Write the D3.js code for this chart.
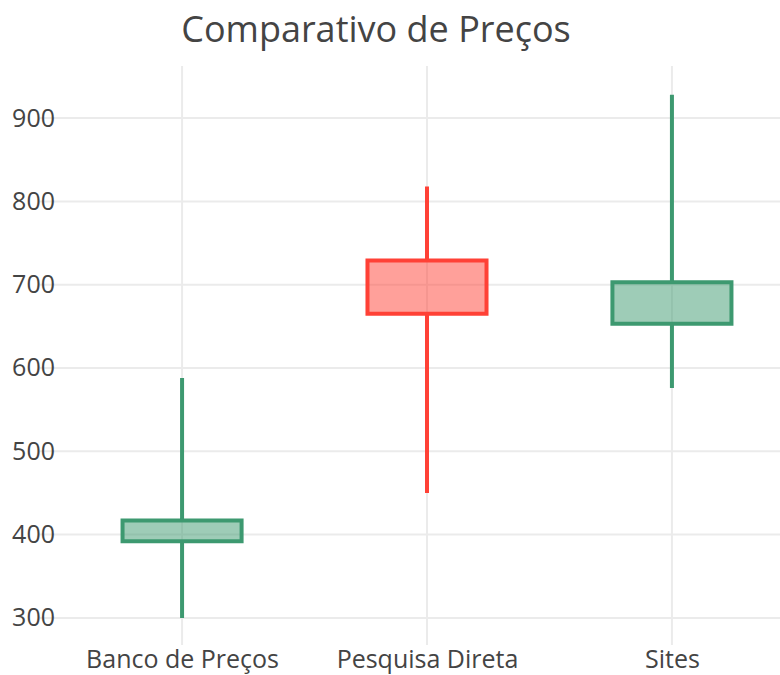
<!DOCTYPE html>
<html>
<head>
<meta charset="utf-8">
<script src="https://cdn.jsdelivr.net/npm/d3@7"></script>
<style>
  body { margin: 0; background: #fff; }
  svg { display: block; font-family: "Open Sans", sans-serif; }
</style>
</head>
<body>
<div id="chart"></div>
<script>
// data
const categories = ["Banco de Preços", "Pesquisa Direta", "Sites"];
const openVals = [392, 729, 653];
const highVals = [588, 818, 928];
const lowVals = [300, 450, 576];
const closeVals = [417, 665, 703];
const yTicks = [300, 400, 500, 600, 700, 800, 900];
const title = "Comparativo de Preços";

const width = 780, height = 675;
const plot = { left: 40, right: 814, top: 66, bottom: 645 };
const incColor = "#3D9970", decColor = "#FF4136";

const candles = categories.map((c, i) => ({
  cat: c, open: openVals[i], high: highVals[i], low: lowVals[i], close: closeVals[i]
}));

const svg = d3.select("#chart").append("svg")
  .attr("width", width)
  .attr("height", height);

const x = d3.scalePoint()
  .domain(categories)
  .range([plot.left, plot.right])
  .padding(0.58);

const y = d3.scaleLinear()
  .domain([267.5, 962.5])
  .range([plot.bottom, plot.top]);

// gridlines
svg.append("g")
  .selectAll("line")
  .data(yTicks)
  .join("line")
  .attr("x1", plot.left).attr("x2", plot.right)
  .attr("y1", d => y(d)).attr("y2", d => y(d))
  .attr("stroke", "#ebebeb").attr("stroke-width", 2);

svg.append("g")
  .selectAll("line")
  .data(categories)
  .join("line")
  .attr("x1", d => x(d)).attr("x2", d => x(d))
  .attr("y1", plot.top).attr("y2", plot.bottom)
  .attr("stroke", "#ebebeb").attr("stroke-width", 2);

// y axis labels
const yAxis = d3.axisLeft(y).tickValues(yTicks).tickSize(0).tickPadding(0);
const yg = svg.append("g")
  .attr("transform", `translate(${plot.left + 15},0)`)
  .call(yAxis);
yg.select(".domain").remove();
yg.selectAll("text")
  .attr("font-family", "Open Sans, sans-serif")
  .attr("font-size", 25)
  .attr("fill", "#444");

// x axis labels
const xAxis = d3.axisBottom(x).tickSize(0).tickPadding(0);
const xg = svg.append("g")
  .attr("transform", `translate(0,${plot.bottom})`)
  .call(xAxis);
xg.select(".domain").remove();
xg.selectAll("text")
  .attr("font-family", "Open Sans, sans-serif")
  .attr("font-size", 25)
  .attr("fill", "#444")
  .attr("dy", "0.71em")
  .attr("y", 5);

// candles
const halfW = x.step() * 0.243;
function candlePath(d) {
  const cx = x(d.cat);
  const top = Math.max(d.open, d.close), bot = Math.min(d.open, d.close);
  return `M${cx - halfW},${y(d.open)}V${y(d.close)}H${cx + halfW}V${y(d.open)}Z` +
    `M${cx},${y(d.low)}V${y(bot)}M${cx},${y(top)}V${y(d.high)}`;
}

svg.append("g")
  .selectAll("path")
  .data(candles)
  .join("path")
  .attr("d", candlePath)
  .attr("fill", d => d3.color(d.close >= d.open ? incColor : decColor).copy({ opacity: 0.5 }))
  .attr("stroke", d => d.close >= d.open ? incColor : decColor)
  .attr("stroke-width", 4);

// title
svg.append("text")
  .attr("x", 376)
  .attr("y", 42)
  .attr("text-anchor", "middle")
  .attr("font-size", 36)
  .attr("fill", "#444")
  .text(title);
</script>
</body>
</html>
